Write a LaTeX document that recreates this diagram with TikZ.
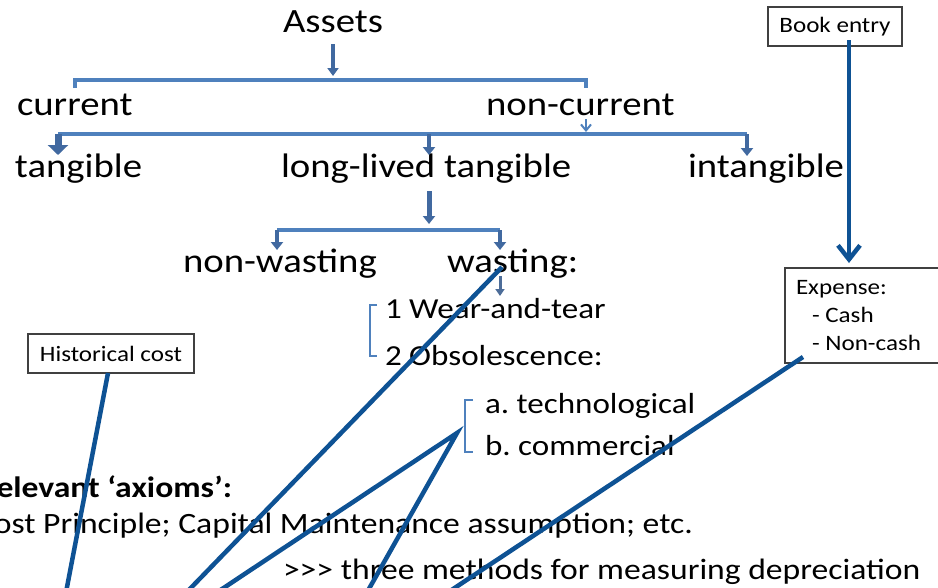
\documentclass[tikz,border=0pt]{standalone}
\usepackage{fontspec}
\usepackage{graphicx}
\setmainfont{Carlito}
\usetikzlibrary{arrows.meta}
\definecolor{brkblue}{RGB}{79,129,189}
\definecolor{arrblue}{RGB}{65,105,160}
\definecolor{connblue}{RGB}{14,82,148}
\definecolor{boxgray}{RGB}{64,64,64}
\newcommand\wx[1]{\scalebox{1.14}[1]{#1}}
\tikzset{
  lbl/.style={inner sep=0pt, outer sep=0pt, anchor=base west, font=\fontsize{34}{40}\selectfont},
  sublbl/.style={lbl, font=\fontsize{29}{34}\selectfont},
  botlbl/.style={lbl, font=\fontsize{29.5}{35}\selectfont},
  smalllbl/.style={lbl, font=\fontsize{22}{28}\selectfont},
  boxn/.style={draw=boxgray, line width=1.3pt, inner sep=0pt, font=\fontsize{22}{28}\selectfont},
  brk/.style={draw=brkblue, line width=3.5pt, line join=miter},
  brkthin/.style={draw=brkblue, line width=2.5pt, line join=miter},
  darr/.style={draw=arrblue, line width=4pt, -{Triangle[width=12pt,length=8pt]}},
  fatarr/.style={draw=arrblue, line width=7pt, -{Triangle[width=20pt,length=10pt]}},
  smallarr/.style={draw=arrblue!80!gray, line width=3pt, -{Triangle[width=9pt,length=7pt]}},
  vtip/.style={draw=brkblue, line width=2pt, -{Straight Barb[length=6pt,width=10pt]}},
  conn/.style={draw=connblue, line width=4.5pt},
}
\begin{document}
\begin{tikzpicture}[x=1pt,y=-1pt]
\useasboundingbox (0,0) rectangle (938,587);
\fill[white] (0,0) rectangle (938,587);
\clip (0,0) rectangle (938,587);

% texts of the tree
\node[lbl] (assets) at (283,32) {\wx{Assets}};
\node[lbl] (current) at (17,115) {\wx{current}};
\node[lbl] (noncur) at (486,115) {\wx{non-current}};
\node[lbl] (tang) at (15,177) {\wx{tangible}};
\node[lbl] (llt) at (281,177) {\wx{long-lived tangible}};
\node[lbl] (intang) at (688,177) {\wx{intangible}};
\node[lbl] (nonw) at (183,272) {\wx{non-wasting}};
\node[lbl] (wast) at (447,272) {\wx{wasting:}};
\node[sublbl] (wear) at (385,318) {\wx{1 Wear-and-tear}};
\node[sublbl] (obs) at (385,365) {\wx{2 Obsolescence:}};
\node[sublbl] (tech) at (485,413) {\wx{a.\ technological}};
\node[sublbl] (comm) at (485,455) {\wx{b.\ commercial}};
\node[botlbl, anchor=base east] (rel) at (232,497) {\wx{\bfseries Relevant ‘axioms’:}};
\node[botlbl, anchor=base east] (cost) at (693,533) {\wx{Cost Principle; Capital Maintenance assumption; etc.}};
\node[botlbl] (three) at (283,579) {\wx{>{}>{}> three methods for measuring depreciation}};

% boxes
\node[boxn, minimum width=134pt, minimum height=39pt] (book) at (835,26.5) {\wx{Book entry}};
\node[boxn, minimum width=166pt, minimum height=39pt] (hist) at (111,353.5) {\wx{Historical cost}};
\node[boxn, minimum width=160pt, minimum height=95pt] (exp) at (865,315.5) {};
\node[smalllbl] (e1) at (796,294) {\wx{Expense:}};
\node[smalllbl] (e2) at (812,322) {\wx{- Cash}};
\node[smalllbl] (e3) at (812,350) {\wx{- Non-cash}};

% tree coordinates
\coordinate (a1) at (333,44);   \coordinate (a2) at (333,76);
\coordinate (b1l) at (75,88);   \coordinate (b1a) at (75,80);
\coordinate (b1b) at (586,80);  \coordinate (b1r) at (586,88);
\coordinate (nc1) at (586,119); \coordinate (nc2) at (586,132);
\coordinate (b2l) at (58,134);  \coordinate (b2m) at (429,134); \coordinate (b2r) at (747,134);
\coordinate (t1) at (58,155);   \coordinate (t2) at (429,155);  \coordinate (t3) at (747,156);
\coordinate (l1) at (429,191);  \coordinate (l2) at (429,224);
\coordinate (b3l) at (277,230); \coordinate (b3r) at (500,230);
\coordinate (w1) at (277,250);  \coordinate (w2) at (500,250);
\coordinate (s1) at (500,276);  \coordinate (s2) at (500,296);
\coordinate (k1a) at (377,305); \coordinate (k1b) at (370,305);
\coordinate (k1c) at (370,356); \coordinate (k1d) at (377,356);
\coordinate (k2a) at (473,400); \coordinate (k2b) at (465,400);
\coordinate (k2c) at (465,452); \coordinate (k2d) at (473,452);

% tree connectors
\draw[darr, line width=4pt, -{Triangle[width=11pt,length=8pt]}] (a1) -- (a2);
\draw[brk] (b1l) -- (b1a) -- (b1b) -- (b1r);
\draw[vtip] (nc1) -- (nc2);
\draw[brk] (b2l) -- (b2r);
\draw[fatarr] (b2l) -- (t1);
\draw[darr] (b2m) -- (t2);
\draw[darr] (b2r) -- (t3);
\draw[darr, line width=5pt] (l1) -- (l2);
\draw[brk] (b3l) -- (b3r);
\draw[darr] (b3l) -- (w1);
\draw[darr] (b3r) -- (w2);
\draw[smallarr] (s1) -- (s2);
\draw[brkthin] (k1a) -- (k1b) -- (k1c) -- (k1d);
\draw[brkthin] (k2a) -- (k2b) -- (k2c) -- (k2d);

% dark connectors
\coordinate (bk1) at (849,40);  \coordinate (bk2) at (849,263);
\coordinate (hc1) at (108,373); \coordinate (hc2) at (65.5,595);
\coordinate (ws1) at (502,267); \coordinate (ws2) at (184,595);
\coordinate (vx) at (457,433);  \coordinate (va) at (213,595); \coordinate (vb) at (365.5,595);
\coordinate (ex1) at (803,357); \coordinate (ex2) at (444,595);
\draw[conn, -{Straight Barb[length=14pt,width=22pt]}] (bk1) -- (bk2);
\draw[conn] (hc1) -- (hc2);
\draw[conn] (ws1) -- (ws2);
\draw[conn, line join=miter, miter limit=20] (va) -- (vx) -- (vb);
\draw[conn] (ex1) -- (ex2);
\end{tikzpicture}
\end{document}
